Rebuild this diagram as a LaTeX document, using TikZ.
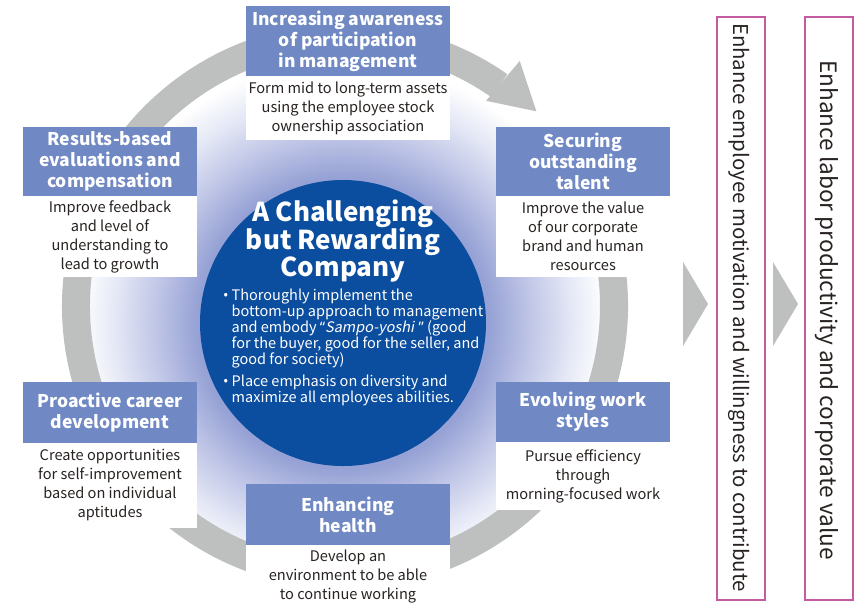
\documentclass[tikz,border=0pt]{standalone}
\usepackage{fontspec}
\setmainfont{Noto Sans CJK JP}
\newfontfamily\slantfont[FakeSlant=0.2]{Noto Sans CJK JP}
\newfontfamily\qf{Noto Sans}
\usetikzlibrary{calc}
\definecolor{ringc}{RGB}{190,192,191}
\definecolor{hdrc}{RGB}{112,137,196}
\definecolor{bluec}{RGB}{11,77,158}
\definecolor{glowc}{RGB}{150,162,213}
\definecolor{glowm}{RGB}{190,196,230}
\definecolor{glowl}{RGB}{228,231,245}
\definecolor{txtc}{RGB}{40,35,33}
\definecolor{pinkc}{RGB}{196,90,160}
\pgfdeclareradialshading{glowshade}{\pgfpoint{0bp}{0bp}}{color(0bp)=(glowc); color(13.8bp)=(glowc); color(17.5bp)=(glowm); color(21.5bp)=(glowl); color(24.8bp)=(white); color(50bp)=(white)}
\begin{document}
\begin{tikzpicture}[x=1pt,y=1pt,
  hdrbox/.style={fill=hdrc,text=white,font=\bfseries\fontsize{17.5}{21}\selectfont,align=center,inner sep=0pt},
  bodybox/.style={fill=white,text=txtc,font=\fontsize{14.6}{19}\selectfont,align=center,inner sep=0pt},
  vbox/.style={draw=pinkc,line width=2pt,inner sep=0pt,minimum width=48pt,minimum height=583pt},
  vtext/.style={rotate=-90,text=txtc,inner sep=0pt},
  bultext/.style={anchor=west,text=white,font=\fontsize{14.5}{16}\selectfont,align=left,inner sep=0pt}]
\useasboundingbox (0,0) rectangle (861,-603);
\fill[white] (0,0) rectangle (861,-603);
% glow
\coordinate (B) at (343,-323);
\shade[shading=glowshade] (B) circle[radius=265];
% ring
\coordinate (C) at (345,-306);
\fill[ringc] ($(C)+(35:283)$) arc[start angle=35, end angle=-305, radius=283]
  -- ($(C)+(-305:255)$) arc[start angle=-305, end angle=35, radius=255] -- cycle;
\fill[ringc] ($(C)+(55.5:249)$) -- ($(C)+(54.5:301)$) -- ($(C)+(45.5:273)$) -- cycle;
% core circle
\node[circle,fill=bluec,minimum size=286pt,inner sep=0pt] (core) at (B) {};
\node[text=white,font=\bfseries\fontsize{26}{27}\selectfont,align=center,inner sep=0pt] (title) at (343,-241) {A Challenging\\but Rewarding\\Company};
\node[bultext] (bul1) at (223,-329) {\makebox[8.5pt][l]{\qf •}Thoroughly implement the\\\hspace*{8.5pt}bottom-up approach to management\\\hspace*{8.5pt}and embody {\qf “}{\slantfont Sampo-yoshi}\hspace{4.5pt}{\qf ”} (good\\\hspace*{8.5pt}for the buyer, good for the seller, and\\\hspace*{8.5pt}good for society)};
\node[bultext] (bul2) at (223,-390) {\makebox[8.5pt][l]{\qf •}Place emphasis on diversity and\\\hspace*{8.5pt}maximize all employees abilities.};
% boxes
\node[hdrbox,minimum width=204pt,minimum height=70pt] (h1) at (348,-41) {Increasing awareness\\of participation\\in management};
\node[bodybox,minimum width=204pt,minimum height=64pt] (b1) at (348,-108) {Form mid to long-term assets\\using the employee stock\\ownership association};
\node[hdrbox,minimum width=174pt,minimum height=69pt] (h2) at (583,-161.5) {Securing\\outstanding\\talent};
\node[bodybox,minimum width=174pt,minimum height=81pt] (b2) at (583,-236.5) {Improve the value\\of our corporate\\brand and human\\resources};
\node[hdrbox,minimum width=174pt,minimum height=69pt] (h3) at (110,-161.5) {Results-based\\evaluations and\\compensation};
\node[bodybox,minimum width=174pt,minimum height=81pt] (b3) at (110,-236.5) {Improve feedback\\and level of\\understanding to\\lead to growth};
\node[hdrbox,minimum width=174pt,minimum height=61pt] (h4) at (110,-412.5) {Proactive career\\development};
\node[bodybox,minimum width=174pt,minimum height=85pt] (b4) at (110,-485.5) {Create opportunities\\for self-improvement\\based on individual\\aptitudes};
\node[hdrbox,minimum width=174pt,minimum height=60pt] (h5) at (583,-412) {Evolving work\\styles};
\node[bodybox,minimum width=174pt,minimum height=68pt] (b5) at (583,-476) {Pursue efficiency\\through\\morning-focused work};
\node[hdrbox,minimum width=204pt,minimum height=61pt] (h6) at (348,-514.5) {Enhancing\\health};
\node[bodybox,minimum width=204pt,minimum height=64pt] (b6) at (348,-577) {Develop an\\environment to be able\\to continue working};
% right side
\node[vbox] (v1) at (741,-308.5) {};
\node[vtext,font=\fontsize{20.4}{21}\selectfont] (v1t) at (739.5,-307.5) {Enhance employee motivation and willingness to contribute};
\node[vbox] (v2) at (828.5,-308.5) {};
\node[vtext,font=\fontsize{22.6}{23}\selectfont] (v2t) at (827,-310) {Enhance labor productivity and corporate value};
\fill[ringc] (683,-262) -- (683,-346) -- (708,-304) -- cycle;
\fill[ringc] (773,-262) -- (773,-346) -- (798,-304) -- cycle;
\end{tikzpicture}
\end{document}
